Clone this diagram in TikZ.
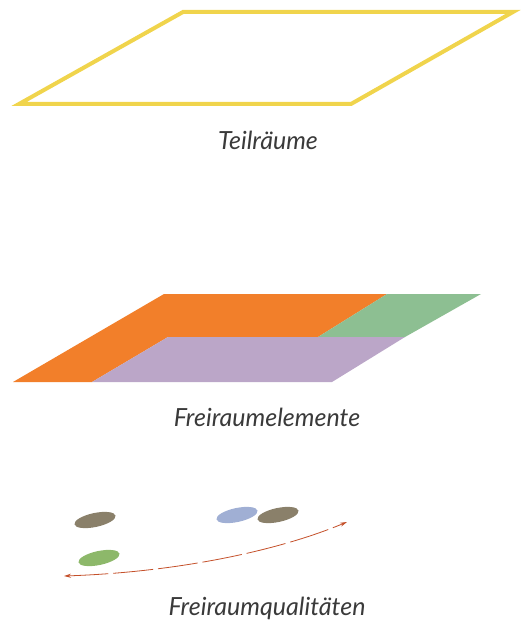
\documentclass[tikz,border=0pt]{standalone}
\usepackage{fontspec}
\setmainfont{Lato}
\usetikzlibrary{arrows.meta}
\definecolor{ygold}{HTML}{F0D44C}
\definecolor{orng}{HTML}{F27F2A}
\definecolor{grn}{HTML}{8DBF92}
\definecolor{purp}{HTML}{BBA6C8}
\definecolor{olive}{HTML}{8A806A}
\definecolor{blu}{HTML}{A0AFD4}
\definecolor{lgrn}{HTML}{8DB86A}
\definecolor{rust}{HTML}{C4502A}
\definecolor{txt}{HTML}{3A3A3A}
\tikzset{
  lbl/.style={font=\fontsize{25}{28}\selectfont\itshape, text=txt, inner sep=0pt, anchor=base}
}
\begin{document}
\begin{tikzpicture}[x=1pt,y=-1pt]
\useasboundingbox (0,0) rectangle (532,623);
% Teilraeume
\draw[ygold, line width=4pt, line join=miter] (183,12) -- (513,12) -- (351,104) -- (19,104) -- cycle;
\node[lbl] (t1) at (268,149) {Teilräume};
% Freiraumelemente
\fill[orng] (164,294) -- (387,294) -- (318,337) -- (168,337) -- (92,382) -- (13,382) -- cycle;
\fill[grn] (387,294) -- (481,294) -- (405,337) -- (318,337) -- cycle;
\fill[purp] (168,337) -- (405,337) -- (332,382) -- (92,382) -- cycle;
\node[lbl] (t2) at (267,426) {Freiraumelemente};
% Freiraumqualitaeten
\fill[olive, rotate around={12:(95,520)}] (95,520) ellipse (21 and 7);
\fill[blu, rotate around={12:(237,515)}] (237,515) ellipse (21 and 7);
\fill[olive, rotate around={12:(278,515)}] (278,515) ellipse (21 and 7);
\fill[lgrn, rotate around={12:(99,558)}] (99,558) ellipse (21 and 7);
\coordinate (a) at (64,576);
\coordinate (b) at (347,522);
\draw[rust, line width=0.8pt, dash pattern=on 40pt off 5pt, {Stealth[length=7pt,width=4pt]}-{Stealth[length=7pt,width=4pt]}]
  (a) .. controls (180,572) and (280,550) .. (b);
\node[lbl] (t3) at (267,615) {Freiraumqualitäten};
\end{tikzpicture}
\end{document}
